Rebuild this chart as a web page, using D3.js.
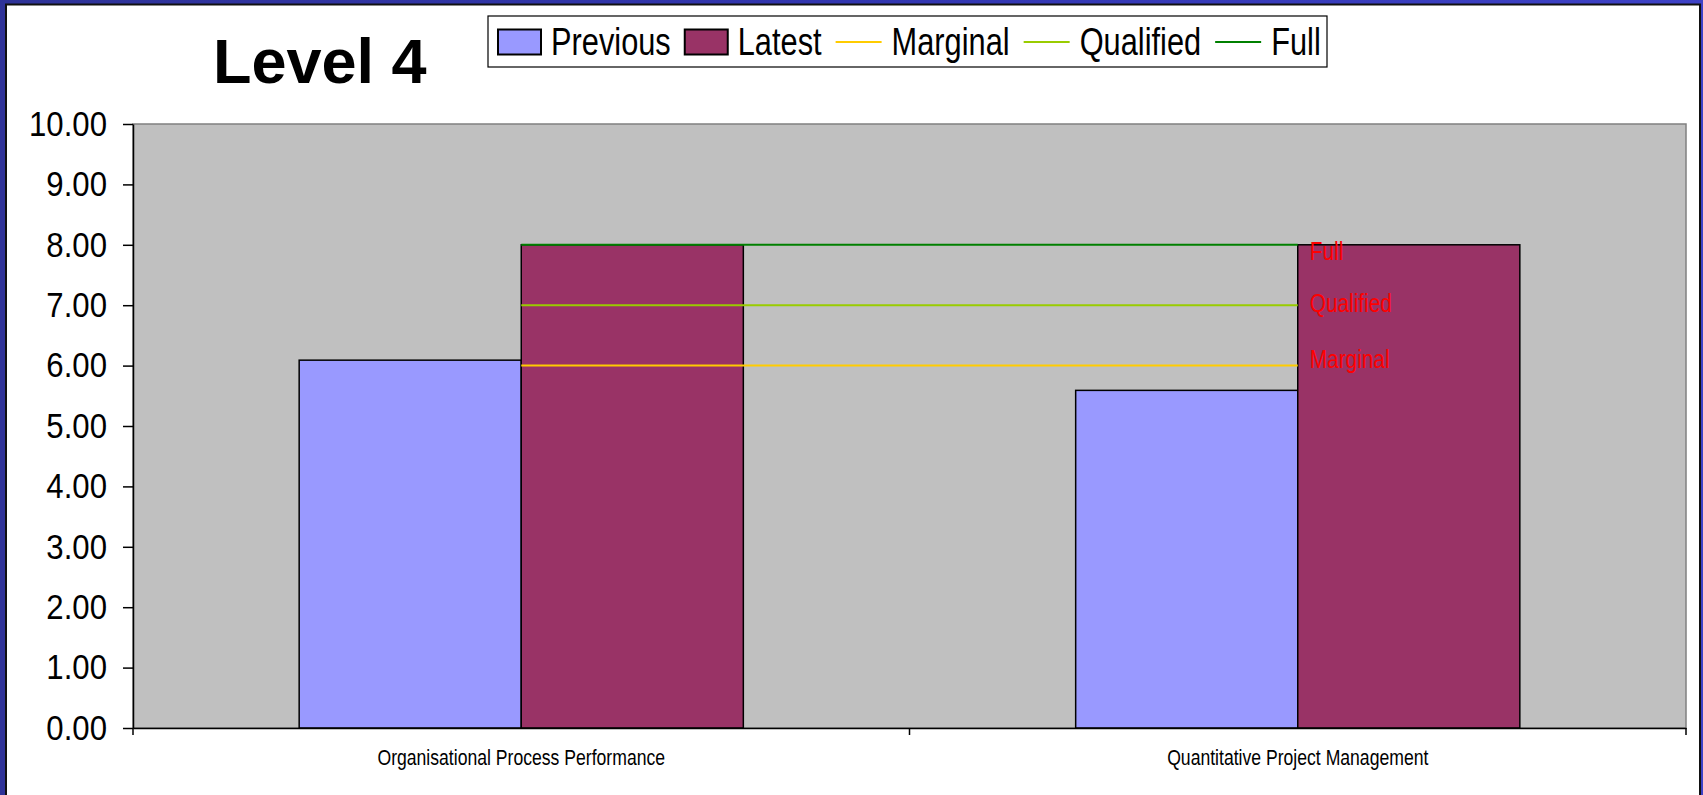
<!DOCTYPE html>
<html>
<head>
<meta charset="utf-8">
<title>Level 4</title>
<script src="https://cdn.jsdelivr.net/npm/d3@7"></script>
<style>
  body { margin: 0; background: #3236a8; overflow: hidden; }
  text { font-family: "Liberation Sans", Arial, sans-serif; }
</style>
</head>
<body>
<script>
// chart data
var categories = ["Organisational Process Performance", "Quantitative Project Management"];
var seriesNames = ["Previous", "Latest"];
var previousValues = [6.09, 5.59];
var latestValues = [8.00, 8.00];
var lineNames = ["Marginal", "Qualified", "Full"];
var marginalValues = [6, 6];
var qualifiedValues = [7, 7];
var fullValues = [8, 8];
var yTicks = [0, 1, 2, 3, 4, 5, 6, 7, 8, 9, 10];

// sizes
const w = 1703;
const h = 795;
const plot = {left: 133, right: 1686, top: 124, bottom: 728};

const barColors = {"Previous": "#9999FF", "Latest": "#993366"};
const lineColors = {"Marginal": "#FFCC00", "Qualified": "#99CC00", "Full": "#008000"};
// small vertical shift of the red data labels
const labelNudge = {"Marginal": -7, "Qualified": -2, "Full": 6};

// squeeze text sideways, the chart font is a narrow one
function squeeze(sel, k) {
  sel.each(function() {
    var len = this.getComputedTextLength();
    d3.select(this).attr("textLength", len * k).attr("lengthAdjust", "spacingAndGlyphs");
  });
}

var svg = d3.select("body").append("svg")
            .attr("width", w)
            .attr("height", h);

// blue slide background and white chart panel
var grad = svg.append("defs").append("linearGradient")
              .attr("id", "bg").attr("x1", 0).attr("x2", 1).attr("y1", 0).attr("y2", 0);
grad.append("stop").attr("offset", "0%").attr("stop-color", "#2f3398");
grad.append("stop").attr("offset", "50%").attr("stop-color", "#3236b0");
grad.append("stop").attr("offset", "100%").attr("stop-color", "#3e42c6");
svg.append("rect").attr("width", w).attr("height", h).attr("fill", "url(#bg)");
svg.append("rect")
   .attr("x", 6).attr("y", 4.5)
   .attr("width", 1694).attr("height", h + 10)
   .attr("fill", "#ffffff")
   .attr("stroke", "#111111")
   .attr("stroke-width", 2);

// scales
var x0 = d3.scaleBand().domain(categories).range([plot.left, plot.right]).padding(0);
var x1 = d3.scaleBand().domain(seriesNames)
           .range([x0.bandwidth() * 0.214, x0.bandwidth() * 0.786]).padding(0);
var y = d3.scaleLinear().domain([0, 10]).range([plot.bottom, plot.top]);

// plot area
svg.append("rect")
   .attr("x", plot.left).attr("y", plot.top)
   .attr("width", plot.right - plot.left).attr("height", plot.bottom - plot.top)
   .attr("fill", "#C0C0C0")
   .attr("stroke", "#808080")
   .attr("stroke-width", 1.5);

// bars
var barData = categories.map(function(c, i) {
  return {cat: c, values: [
    {name: "Previous", value: previousValues[i]},
    {name: "Latest", value: latestValues[i]}
  ]};
});

svg.selectAll("g.group")
   .data(barData)
   .enter()
   .append("g")
   .attr("class", "group")
   .attr("transform", function(d) { return "translate(" + x0(d.cat) + ",0)"; })
   .selectAll("rect")
   .data(function(d) { return d.values; })
   .enter()
   .append("rect")
   .attr("x", function(d) { return x1(d.name); })
   .attr("y", function(d) { return y(d.value); })
   .attr("width", x1.bandwidth())
   .attr("height", function(d) { return y(0) - y(d.value); })
   .attr("fill", function(d) { return barColors[d.name]; })
   .attr("stroke", "#000000")
   .attr("stroke-width", 1.5);

// threshold lines between category centres
var lineData = [
  {name: "Marginal", values: marginalValues},
  {name: "Qualified", values: qualifiedValues},
  {name: "Full", values: fullValues}
];
var line = d3.line()
             .x(function(d, i) { return x0(categories[i]) + x0.bandwidth() / 2; })
             .y(function(d) { return y(d); });

svg.selectAll("path.level")
   .data(lineData)
   .enter()
   .append("path")
   .attr("class", "level")
   .attr("d", function(d) { return line(d.values); })
   .attr("fill", "none")
   .attr("stroke", function(d) { return lineColors[d.name]; })
   .attr("stroke-width", 2);

// red labels at the last point of each line
var lastCat = categories[categories.length - 1];
svg.selectAll("text.lvl")
   .data(lineData)
   .enter()
   .append("text")
   .attr("class", "lvl")
   .attr("x", x0(lastCat) + x0.bandwidth() / 2 + 12)
   .attr("y", function(d) { return y(d.values[d.values.length - 1]) + labelNudge[d.name]; })
   .attr("dy", "0.35em")
   .attr("fill", "#FF0000")
   .style("font-size", "26px")
   .text(function(d) { return d.name; })
   .call(squeeze, 0.8);

// y axis
var yAxis = svg.append("g")
   .attr("transform", "translate(" + plot.left + ",0)")
   .call(d3.axisLeft(y).tickValues(yTicks).tickFormat(d3.format(".2f"))
           .tickSize(10).tickPadding(16).tickSizeOuter(0));
yAxis.select(".domain").attr("stroke", "#000000").attr("stroke-width", 1.5);
yAxis.selectAll(".tick line").attr("stroke", "#000000").attr("stroke-width", 1.5);
yAxis.selectAll(".tick text")
     .style("font-size", "35px")
     .attr("fill", "#000000")
     .call(squeeze, 0.89);

// x axis: labels in the middle, ticks at the category edges
var xAxis = svg.append("g")
   .attr("transform", "translate(0," + plot.bottom + ")")
   .call(d3.axisBottom(x0).tickSize(0).tickPadding(21).tickSizeOuter(0));
xAxis.select(".domain").attr("stroke", "#000000").attr("stroke-width", 1.5);
xAxis.selectAll(".tick text")
     .style("font-size", "22px")
     .attr("fill", "#000000")
     .call(squeeze, 0.8);

var edges = categories.map(function(c) { return x0(c); }).concat([x0.range()[1]]);
xAxis.selectAll("line.edge")
     .data(edges)
     .enter()
     .append("line")
     .attr("class", "edge")
     .attr("x1", function(d) { return d; })
     .attr("x2", function(d) { return d; })
     .attr("y1", 0).attr("y2", 7)
     .attr("stroke", "#000000")
     .attr("stroke-width", 1.5);

// title
svg.append("text")
   .attr("x", 213).attr("y", 83)
   .style("font-size", "63px")
   .style("font-weight", "bold")
   .attr("fill", "#000000")
   .text("Level 4");

// legend
var legend = svg.append("g");
legend.append("rect")
   .attr("x", 488).attr("y", 16)
   .attr("width", 839).attr("height", 51)
   .attr("fill", "#ffffff")
   .attr("stroke", "#000000")
   .attr("stroke-width", 1.2);

var legendItems = seriesNames.map(function(n) { return {name: n, type: "bar"}; })
                  .concat(lineNames.map(function(n) { return {name: n, type: "line"}; }));
var lx = 498;
var ly = 42;
legendItems.forEach(function(item) {
  if (item.type === "bar") {
    legend.append("rect")
          .attr("x", lx).attr("y", ly - 12.5)
          .attr("width", 43).attr("height", 25)
          .attr("fill", barColors[item.name])
          .attr("stroke", "#000000")
          .attr("stroke-width", 2);
  } else {
    legend.append("line")
          .attr("x1", lx).attr("x2", lx + 46)
          .attr("y1", ly).attr("y2", ly)
          .attr("stroke", lineColors[item.name])
          .attr("stroke-width", 2);
  }
  lx += (item.type === "bar" ? 43 : 46) + 10;
  var t = legend.append("text")
                .attr("x", lx).attr("y", ly)
                .attr("dy", "0.35em")
                .style("font-size", "38px")
                .attr("fill", "#000000")
                .text(item.name)
                .call(squeeze, 0.81);
  lx += +t.attr("textLength") + 14;
});
</script>
</body>
</html>
